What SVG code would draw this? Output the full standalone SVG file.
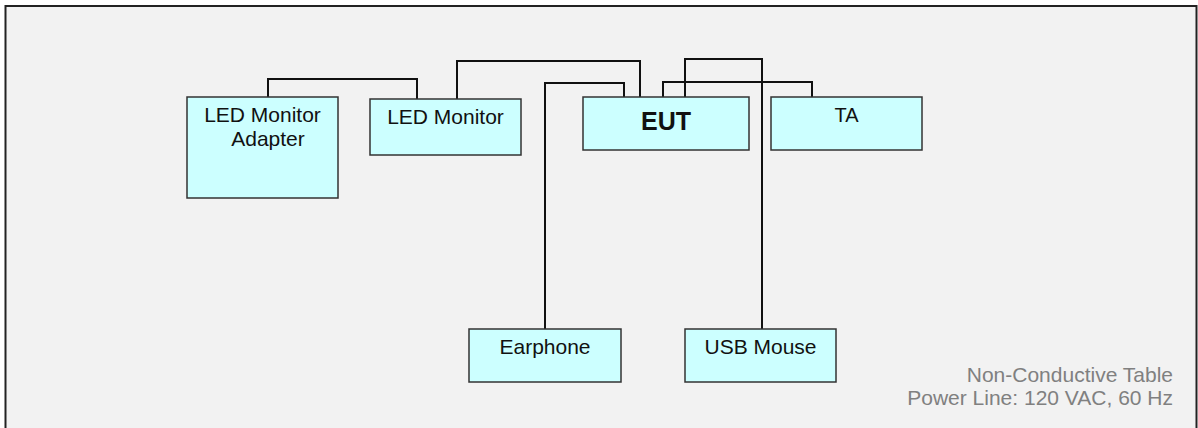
<svg xmlns="http://www.w3.org/2000/svg" width="1198" height="428" viewBox="0 0 1198 428">
<style>
.node rect{fill:#ccffff;stroke:#333;stroke-width:1.5}
.node text{font-family:"Liberation Sans",Arial,sans-serif;font-size:21px;fill:#111;text-anchor:middle}
#connectors path{fill:none;stroke:#111;stroke-width:2}
.note{font-family:"Liberation Sans",Arial,sans-serif;font-size:21px;fill:#808080;text-anchor:end}
</style>
<rect x="0" y="0" width="1198" height="428" fill="#ffffff"/>
<rect x="5.5" y="6" width="1191" height="430" fill="#f2f2f2" stroke="#222" stroke-width="2"/>
<g id="connectors">
<path d="M268 97 V79 H417 V99"/>
<path d="M457 99 V61 H640 V97"/>
<path d="M545 329 V83 H624 V97"/>
<path d="M762 329 V59 H685 V97"/>
<path d="M663 97 V82 H812 V97"/>
</g>
<g id="led-monitor-adapter" class="node">
<rect x="187" y="97" width="151" height="101"/>
<text x="262.5" y="122">LED Monitor</text>
<text x="268" y="146">Adapter</text>
</g>
<g id="led-monitor" class="node">
<rect x="370" y="99" width="151" height="56"/>
<text x="445.5" y="124">LED Monitor</text>
</g>
<g id="eut" class="node">
<rect x="583" y="97" width="166" height="53"/>
<text x="666" y="130" style="font-weight:bold;font-size:25px">EUT</text>
</g>
<g id="ta" class="node">
<rect x="771" y="97" width="151" height="53"/>
<text x="846.5" y="122" style="font-size:20px">TA</text>
</g>
<g id="earphone" class="node">
<rect x="469" y="329" width="152" height="53"/>
<text x="545" y="354">Earphone</text>
</g>
<g id="usb-mouse" class="node">
<rect x="685" y="329" width="151" height="53"/>
<text x="760.5" y="354">USB Mouse</text>
</g>
<text class="note" x="1173" y="382">Non-Conductive Table</text>
<text class="note" x="1173" y="405">Power Line: 120 VAC, 60 Hz</text>
</svg>
